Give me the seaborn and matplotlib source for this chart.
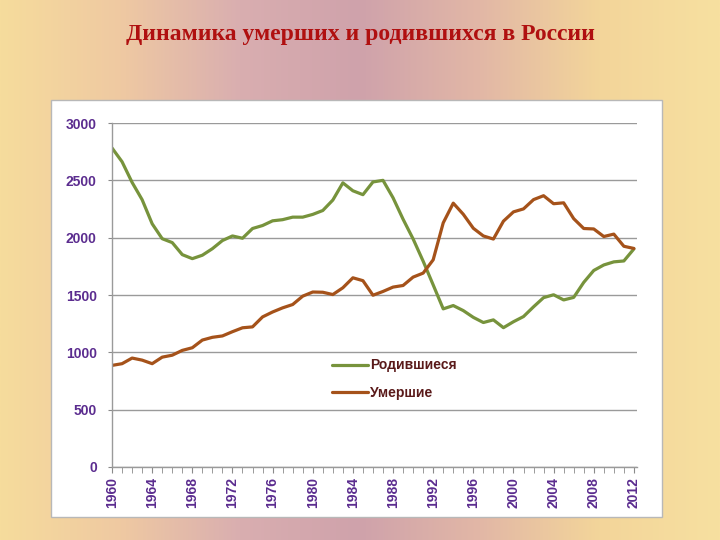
import matplotlib
matplotlib.use("Agg")
import matplotlib.pyplot as plt
import numpy as np
import pandas as pd
import seaborn as sns
from matplotlib.colors import LinearSegmentedColormap
from matplotlib.patches import Rectangle

years = list(range(1960, 2013))

births = [2782, 2662, 2482, 2331, 2121, 1991, 1957, 1852, 1817, 1847,
          1904, 1975, 2015, 1995, 2080, 2106, 2147, 2157, 2179, 2179,
          2203, 2237, 2328, 2478, 2409, 2375, 2486, 2500, 2348, 2161,
          1989, 1795, 1588, 1379, 1408, 1364, 1305, 1260, 1283, 1215,
          1267, 1312, 1397, 1477, 1502, 1457, 1479, 1610, 1714, 1762,
          1789, 1797, 1902]

deaths = [886, 901, 950, 932, 901, 958, 975, 1017, 1040, 1107,
          1131, 1143, 1180, 1214, 1222, 1309, 1352, 1388, 1417, 1490,
          1526, 1524, 1504, 1563, 1650, 1625, 1498, 1531, 1569, 1583,
          1656, 1691, 1807, 2129, 2301, 2204, 2082, 2015, 1988, 2144,
          2225, 2251, 2332, 2366, 2296, 2304, 2166, 2080, 2076, 2010,
          2031, 1925, 1906]

series_names = ["Родившиеся", "Умершие"]
series_colors = ["#77933c", "#a5521a"]
title = "Динамика умерших и родившихся в России"

df = pd.DataFrame({
    "year": years * 2,
    "value": births + deaths,
    "series": [series_names[0]] * len(years) + [series_names[1]] * len(years),
})

sns.set_style("white")
plt.rcParams['font.family'] = ['Liberation Sans', 'DejaVu Sans']

fig = plt.figure(figsize=(7.2, 5.4), dpi=100)

# pastel slide background
bg = fig.add_axes([0, 0, 1, 1])
bg_cmap = LinearSegmentedColormap.from_list(
    "bg", ["#f6dc9c", "#efc9a2", "#d9aeb0", "#cfa2ab", "#e2b7a6", "#f3d59a", "#f7e0a0"])
grad = np.linspace(0, 1, 256).reshape(1, -1)
bg.imshow(grad, aspect="auto", cmap=bg_cmap, extent=[0, 1, 0, 1])
bg.set_xlim(0, 1)
bg.set_ylim(0, 1)
bg.axis("off")
bg.add_patch(Rectangle((0.0708, 0.0426), 0.848, 0.772, facecolor="white",
                       edgecolor="#b8b8b8", linewidth=1.0))
bg.text(0.5, 0.936, title, ha="center", va="center", color="#b01010",
        fontsize=17, fontweight="bold", family="Liberation Serif")

ax = fig.add_axes([0.1556, 0.1352, 0.729, 0.637])
sns.lineplot(data=df, x="year", y="value", hue="series", palette=series_colors,
             linewidth=2.3, ax=ax)

ax.set_facecolor("white")
ax.set_xlim(1960, 2012.3)
ax.set_ylim(0, 3000)
ax.set_yticks(range(0, 3001, 500))
ax.set_xticks(range(1960, 2013, 4))
ax.set_xticks(years, minor=True)
ax.tick_params(axis="x", which="both", direction="out", length=4, color="#8a8a8a",
               labelrotation=90, labelsize=10, labelcolor="#5b2c8f", bottom=True)
ax.tick_params(axis="y", direction="out", length=3, color="#8a8a8a", pad=8,
               labelsize=10, labelcolor="#5b2c8f", left=True)
for lbl in ax.get_xticklabels() + ax.get_yticklabels():
    lbl.set_fontweight("bold")
ax.grid(axis="y", color="#9a9a9a", linewidth=1.0)
ax.grid(axis="x", visible=False)
ax.set_xlabel("")
ax.set_ylabel("")
for side in ["top", "right"]:
    ax.spines[side].set_visible(False)
for side in ["left", "bottom"]:
    ax.spines[side].set_color("#9a9a9a")
    ax.spines[side].set_linewidth(1.0)

leg = ax.legend(loc="upper left", bbox_to_anchor=(0.396, 0.352), frameon=False,
                handlelength=2.6, handletextpad=0.1, labelspacing=1.0,
                prop={"weight": "bold", "size": 10})
for t in leg.get_texts():
    t.set_color("#5a1a1a")

fig.savefig("out.png", dpi=100)
